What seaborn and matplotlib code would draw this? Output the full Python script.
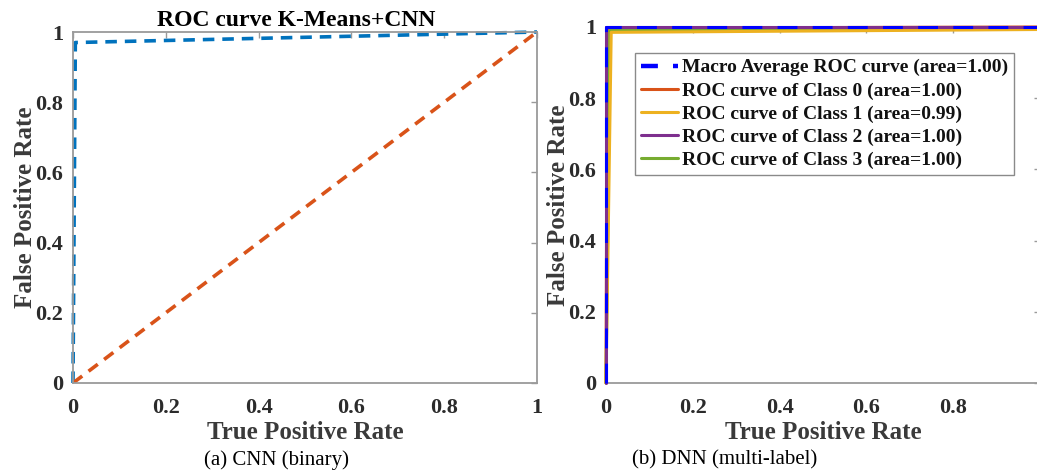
import matplotlib
matplotlib.use("Agg")
import matplotlib.pyplot as plt
import seaborn as sns
import pandas as pd

# ---------------- data ----------------
# (a) binary CNN
cnn_roc_x = [0.0, 0.005, 1.0]
cnn_roc_y = [0.0, 0.97, 1.0]
chance_x = [0.0, 1.0]
chance_y = [0.0, 1.0]

# (b) multi-label DNN
macro_x = [0.0, 0.0, 1.0]
macro_y = [0.0, 1.0, 1.0]
class0_x = [0.0, 0.003, 1.0]
class0_y = [0.0, 0.997, 1.0]
class1_x = [0.0, 0.012, 1.0]
class1_y = [0.0, 0.985, 0.993]
class2_x = [0.0, 0.0, 1.0]
class2_y = [0.0, 1.0, 1.0]
class3_x = [0.0, 0.009, 1.0]
class3_y = [0.0, 0.99, 0.998]

right_labels = [
    "Macro Average ROC curve (area=1.00)",
    "ROC curve of Class 0 (area=1.00)",
    "ROC curve of Class 1 (area=0.99)",
    "ROC curve of Class 2 (area=1.00)",
    "ROC curve of Class 3 (area=1.00)",
]
ticks = [0, 0.2, 0.4, 0.6, 0.8, 1]
tick_labels = ["0", "0.2", "0.4", "0.6", "0.8", "1"]

# ---------------- style ----------------
sns.set_theme(style="white")
plt.rcParams["font.family"] = ["Liberation Serif", "DejaVu Serif"]
TXT = "#2b2b2b"
SPINE = "#9a9a9a"

fig = plt.figure(figsize=(10.37, 4.72), dpi=100)
axL = fig.add_axes([73 / 1037, 89 / 472, 464 / 1037, 351 / 472])
axR = fig.add_axes([606 / 1037, 89 / 472, 434 / 1037, 356 / 472])


def style_axes(ax, xlabels):
    ax.set_xlim(0, 1)
    ax.set_ylim(0, 1)
    ax.set_xticks(ticks)
    ax.set_yticks(ticks)
    ax.set_xticklabels(xlabels)
    ax.set_yticklabels(tick_labels)
    for s in ax.spines.values():
        s.set_color(SPINE)
        s.set_linewidth(1.3)
        s.set_visible(True)
    ax.tick_params(axis="both", which="both", direction="in", length=4,
                   width=1, color=SPINE, top=True, right=True,
                   labelsize=16, labelcolor=TXT)
    ax.tick_params(axis="x", pad=11)
    ax.tick_params(axis="y", pad=7)
    for lab in ax.get_xticklabels() + ax.get_yticklabels():
        lab.set_fontweight("bold")
    ax.set_xlabel("True Positive Rate", fontsize=18, fontweight="bold",
                  color="#3a3a3a", labelpad=2)
    ax.set_ylabel("False Positive Rate", fontsize=18, fontweight="bold",
                  color="#3a3a3a", labelpad=-1)


# ---------------- (a) ----------------
sns.lineplot(x=cnn_roc_x, y=cnn_roc_y, ax=axL, color="#0072BD",
             linewidth=2.6, linestyle="--", sort=False, estimator=None,
             clip_on=False)
axL.lines[-1].set_dashes((3.2, 2.2))
sns.lineplot(x=chance_x, y=chance_y, ax=axL, color="#D95319",
             linewidth=2.6, linestyle="--", sort=False, estimator=None)
axL.lines[-1].set_dashes((3.2, 2.2))
style_axes(axL, tick_labels)
axL.set_title("ROC curve K-Means+CNN", fontsize=17, fontweight="bold",
              color="black", pad=4, x=0.48)

# ---------------- (b) ----------------
series = [
    (macro_x, macro_y, "#0000FF", 9),
    (class0_x, class0_y, "#D95319", 3),
    (class1_x, class1_y, "#EDB120", 4),
    (class2_x, class2_y, "#7E2F8E", 5),
    (class3_x, class3_y, "#77AC30", 3),
]
handles = []
for (xs, ys, col, z), lab in zip(series, right_labels):
    if lab.startswith("Macro"):
        sns.lineplot(x=xs, y=ys, ax=axR, color=col, linewidth=2.2,
                     linestyle="--", sort=False, estimator=None, label=lab,
                     zorder=z, clip_on=False)
        axR.lines[-1].set_dashes((6.5, 5))
    else:
        sns.lineplot(x=xs, y=ys, ax=axR, color=col, linewidth=2.2,
                     sort=False, estimator=None, label=lab, zorder=z,
                     clip_on=False)
    handles.append(axR.lines[-1])
# the "1" tick label of panel (b) falls outside the picture in the reference
style_axes(axR, tick_labels[:-1] + [""])
leg = axR.legend(handles=handles, labels=right_labels, loc="upper left",
                 bbox_to_anchor=(0.067, 0.927), frameon=True, fancybox=False,
                 framealpha=1, edgecolor="#8a8a8a", fontsize=14,
                 labelspacing=0.28, handlelength=1.9, handletextpad=0.2,
                 borderpad=0.3, borderaxespad=0)
leg.get_frame().set_linewidth(1.0)
for t in leg.get_texts():
    t.set_fontweight("bold")
    t.set_color("#111111")
leg.get_lines()[0].set_linewidth(3.2)
leg.get_lines()[0].set_dashes((3.8, 3.4))

# ---------------- captions ----------------
fig.text(277 / 1037, 1 - 460 / 472, "(a) CNN (binary)", ha="center",
         va="center", fontsize=15, color="black")
fig.text(725 / 1037, 1 - 460 / 472, "(b) DNN (multi-label)", ha="center",
         va="center", fontsize=15, color="black")

fig.savefig("out.png", dpi=100)
